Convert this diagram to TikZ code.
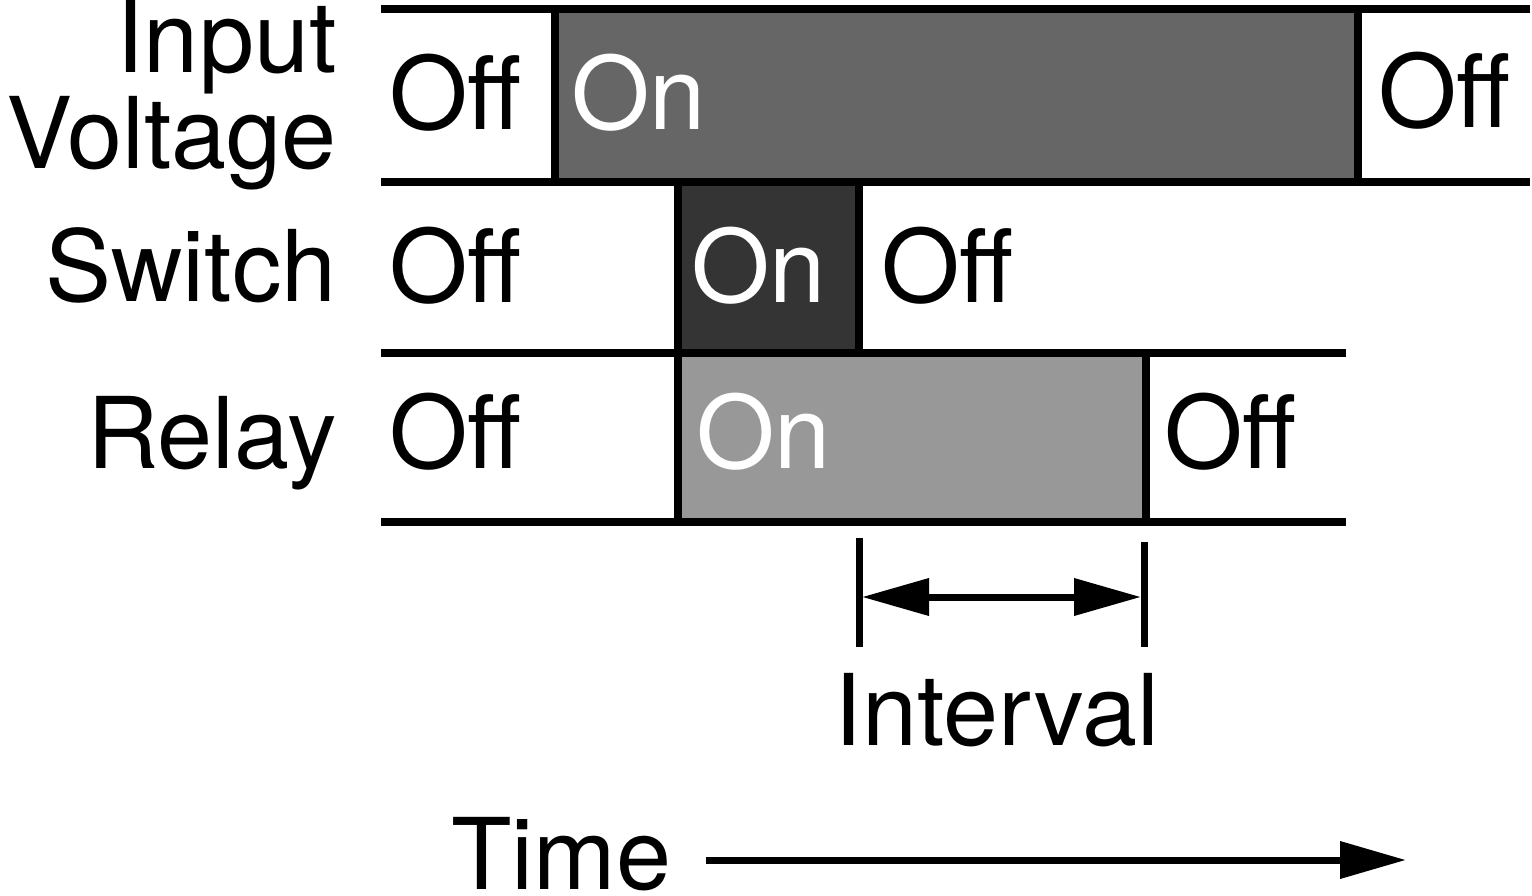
\documentclass[tikz,border=0pt]{standalone}
\usepackage{fontspec}
\setmainfont{TeX Gyre Heros}
\usetikzlibrary{arrows.meta}

\tikzset{
	big/.style={font=\fontsize{99}{99}\selectfont, inner sep=0pt},
	state/.style={font=\fontsize{101}{101}\selectfont, inner sep=0pt, anchor=base west},
	offtxt/.style={state, text=black},
	ontxt/.style={state, text=white},
	rowlbl/.style={big, anchor=base east},
	rail/.style={line width=7.5pt},
	onbox/.style={draw=black, line width=7.5pt},
	tick/.style={line width=7pt},
	span/.style={line width=7pt, {Triangle[length=67pt,width=36pt]}-{Triangle[length=67pt,width=36pt]}},
	timearrow/.style={line width=7pt, -{Triangle[length=66pt,width=36pt]}}
}

\begin{document}
\begin{tikzpicture}[x=1pt,y=1pt,yscale=-1,xscale=1]
		\useasboundingbox (0,0) rectangle (1532,895);
		
		%On boxes
		\draw [onbox, fill={rgb,255:red,102; green,102; blue,102}] (555,9) rectangle (1358,182);
		\draw [onbox, fill={rgb,255:red,52; green,52; blue,52}] (678,182) rectangle (859,353);
		\draw [onbox, fill={rgb,255:red,152; green,152; blue,152}] (678,353) rectangle (1146,522);
		
		%Rails
		\draw [rail] (381,9) -- (1530,9) ;
		\draw [rail] (381,182) -- (1530,182) ;
		\draw [rail] (381,353) -- (1346,353) ;
		\draw [rail] (381,522) -- (1346,522) ;
		
		%Row labels
		\node [rowlbl] (lblinput) at (337,72) {Input};
		\node [rowlbl] (lblvolt) at (337,168) {Voltage};
		\node [rowlbl] (lblswitch) at (337,301) {Switch};
		\node [rowlbl] (lblrelay) at (337,468) {Relay};
		
		%Input voltage row
		\node [offtxt] (voff1) at (389,129) {Off};
		\node [ontxt] (von) at (571,129) {On};
		\node [offtxt] (voff2) at (1378,127) {Off};
		
		%Switch row
		\node [offtxt] (soff1) at (389,302) {Off};
		\node [ontxt] (son) at (691,302) {On};
		\node [offtxt] (soff2) at (881,302) {Off};
		
		%Relay row
		\node [offtxt] (roff1) at (389,468) {Off};
		\node [ontxt] (ron) at (696,468) {On};
		\node [offtxt] (roff2) at (1164,468) {Off};
		
		%Interval
		\coordinate (ivtop1) at (859,538);
		\coordinate (ivbot1) at (859,647);
		\coordinate (ivtop2) at (1144,542);
		\coordinate (ivbot2) at (1144,647);
		\coordinate (ivl) at (862,597);
		\coordinate (ivr) at (1141,597);
		\draw [tick] (ivtop1) -- (ivbot1) ;
		\draw [tick] (ivtop2) -- (ivbot2) ;
		\draw [span] (ivl) -- (ivr) ;
		\node [big, anchor=base] (interval) at (997,745) {Interval};
		
		%Time
		\node [big, anchor=base west] (time) at (451,889) {Time};
		\coordinate (timeend) at (1406,860);
		\draw [timearrow] (706,860) -- (timeend) ;
		
	\end{tikzpicture}
\end{document}
